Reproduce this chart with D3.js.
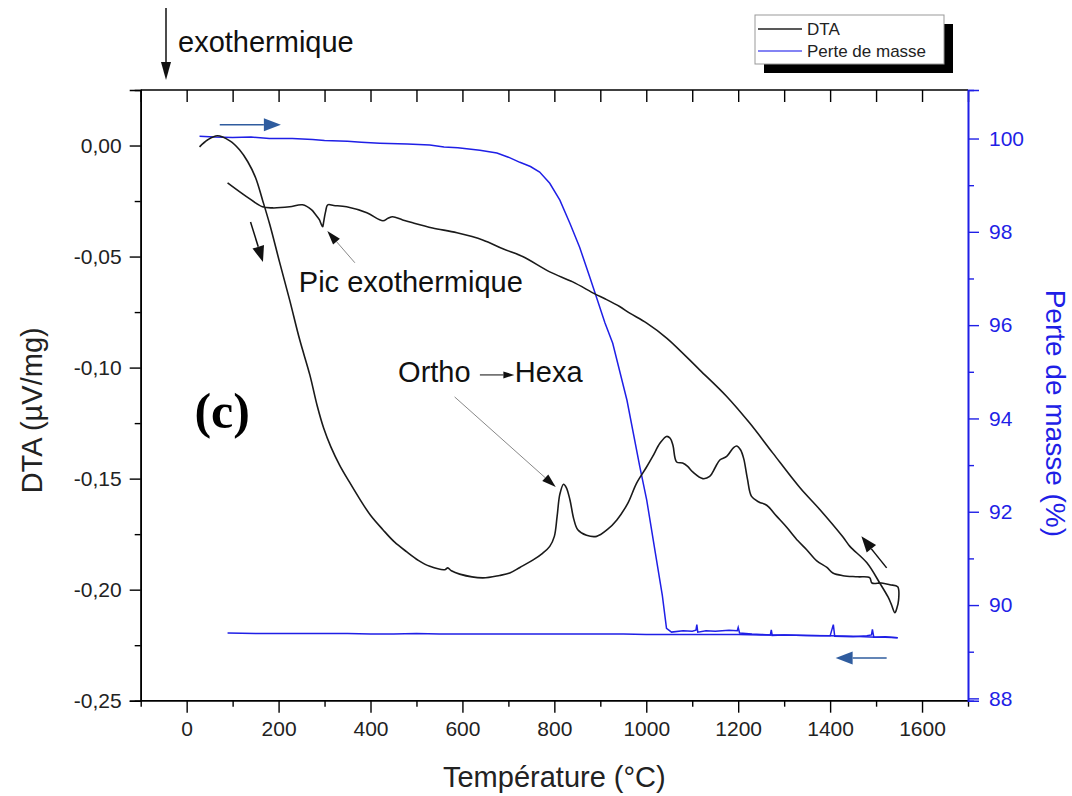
<!DOCTYPE html>
<html><head><meta charset="utf-8">
<script src="https://cdn.jsdelivr.net/npm/d3@7"></script>
<style>body{margin:0;background:#fff}svg{display:block}text{font-family:"Liberation Sans",Arial,sans-serif}</style>
</head><body>
<svg id="c" width="1072" height="796"></svg>
<script>
// ---------- data ----------
const xTicks = [0,200,400,600,800,1000,1200,1400,1600];
const xMinorTicks = [-100,100,300,500,700,900,1100,1300,1500,1700];
const yLeftTicks = [-0.25,-0.20,-0.15,-0.10,-0.05,0.00];
const yLeftMinor = [-0.225,-0.175,-0.125,-0.075,-0.025];
const yRightTicks = [88,90,92,94,96,98,100];
const yRightMinor = [89,91,93,95,97,99];

// DTA heating branch [T, DTA]
const dtaHeating = [[28,-0.0006],[46,0.0026],[67,0.0044],[94,0.0021],[115,-0.0019],[133,-0.0073],[150,-0.0145],[165,-0.0245],[181,-0.0357],[202,-0.0524],[224,-0.0695],[246,-0.0875],[268,-0.1033],[284,-0.1172],[298,-0.1272],[314,-0.1358],[333,-0.1440],[354,-0.1515],[376,-0.159],[400,-0.1665],[427,-0.173],[452,-0.1785],[479,-0.183],[504,-0.1868],[529,-0.1895],[562,-0.1910],[568,-0.1902],[576,-0.1915],[594,-0.193],[644,-0.1947],[681,-0.1936],[703,-0.1925],[725,-0.1900],[753,-0.1867],[775,-0.1835],[790,-0.1805],[800,-0.176],[806,-0.167],[812,-0.157],[820,-0.1525],[826,-0.154],[834,-0.1596],[842,-0.168],[851,-0.173],[870,-0.1755],[892,-0.176],[915,-0.173],[936,-0.1686],[960,-0.161],[979,-0.152],[1000,-0.145],[1014,-0.140],[1030,-0.134],[1044,-0.131],[1052,-0.1318],[1058,-0.135],[1066,-0.1425],[1079,-0.143],[1090,-0.1445],[1101,-0.147],[1123,-0.150],[1138,-0.149],[1150,-0.145],[1160,-0.1416],[1175,-0.140],[1190,-0.136],[1197,-0.1353],[1205,-0.137],[1212,-0.141],[1220,-0.150],[1229,-0.158],[1245,-0.1605],[1262,-0.162],[1284,-0.167],[1306,-0.172],[1330,-0.178],[1349,-0.182],[1371,-0.187],[1393,-0.190],[1406,-0.1925],[1428,-0.1937],[1460,-0.1942],[1486,-0.1946],[1491,-0.197],[1512,-0.197],[1530,-0.1978],[1547,-0.1987],[1549,-0.2046],[1545,-0.2085],[1541,-0.2104]];
// DTA cooling branch [T, DTA]
const dtaCooling = [[1541,-0.2104],[1533,-0.2065],[1526,-0.2033],[1508,-0.197],[1480,-0.1879],[1443,-0.1805],[1428,-0.1763],[1378,-0.164],[1334,-0.154],[1275,-0.1384],[1225,-0.125],[1175,-0.113],[1116,-0.101],[1045,-0.0868],[1001,-0.080],[964,-0.0755],[942,-0.0725],[910,-0.069],[888,-0.0668],[840,-0.0614],[790,-0.0569],[731,-0.050],[688,-0.0465],[644,-0.0425],[588,-0.0393],[535,-0.0371],[492,-0.0348],[470,-0.0335],[448,-0.0321],[438,-0.0328],[427,-0.0339],[392,-0.0303],[348,-0.0276],[320,-0.027],[307,-0.0267],[302,-0.030],[298,-0.0345],[296,-0.0366],[292,-0.035],[289,-0.0335],[280,-0.031],[272,-0.029],[252,-0.0267],[224,-0.0276],[187,-0.0281],[165,-0.0276],[131,-0.0231],[89,-0.0168]];
// mass loss heating branch [T, %]
const massHeating = [[28,100.05],[60,100.03],[100,100.02],[140,100.03],[180,100.0],[230,100.0],[274,99.98],[300,99.96],[350,99.94],[380,99.92],[420,99.9],[480,99.88],[529,99.86],[560,99.82],[590,99.8],[638,99.75],[675,99.69],[700,99.6],[725,99.49],[748,99.4],[768,99.28],[790,99.04],[812,98.68],[834,98.18],[855,97.67],[877,97.03],[894,96.53],[910,96.05],[927,95.61],[958,94.39],[986,92.96],[1001,92.25],[1020,91.1],[1035,90.2],[1044,89.5],[1055,89.42],[1080,89.45],[1100,89.44],[1108,89.46],[1110,89.58],[1112,89.42],[1130,89.45],[1150,89.44],[1180,89.46],[1198,89.45],[1200,89.52],[1203,89.40],[1230,89.38],[1250,89.37],[1270,89.36],[1272,89.47],[1274,89.35],[1300,89.36],[1350,89.35],[1380,89.34],[1400,89.34],[1407,89.58],[1410,89.33],[1450,89.32],[1480,89.34],[1490,89.36],[1492,89.48],[1495,89.31],[1520,89.32],[1547,89.30]];
// mass loss cooling branch [T, %]
const massCooling = [[1547,89.30],[1520,89.31],[1500,89.31],[1450,89.33],[1400,89.34],[1350,89.35],[1300,89.36],[1250,89.36],[1200,89.37],[1150,89.37],[1100,89.37],[1050,89.37],[1000,89.37],[950,89.38],[900,89.38],[850,89.38],[800,89.38],[750,89.38],[700,89.38],[650,89.38],[600,89.38],[550,89.38],[500,89.39],[450,89.38],[400,89.38],[350,89.39],[300,89.39],[250,89.39],[200,89.39],[150,89.39],[89,89.40]];

const legendLabels = ["DTA","Perte de masse"];

// ---------- layout ----------
const svg = d3.select("#c");
const L = 140.7, R = 968, T = 90, B = 700.7;
const x = d3.scaleLinear().domain([-100,1700]).range([L,R]);
const yL = d3.scaleLinear().domain([-0.25,0.025]).range([B,T]);
const yR = d3.scaleLinear().domain([87.95,101.04]).range([B,T]);
const blue = "#1f1fe6";
const arrowBlue = "#2f5c9e";
const fmtL = d => { const s = Math.abs(d).toFixed(2).replace(".",","); return (d < -1e-9 ? "-" : "") + s; };

// axes
const gB = svg.append("g").attr("transform",`translate(0,${B})`);
gB.call(d3.axisBottom(x).tickValues(xTicks).tickSize(12).tickPadding(8).tickFormat(d3.format("d")));
gB.append("g").call(d3.axisBottom(x).tickValues(xMinorTicks).tickSize(6).tickFormat(""));
const gT = svg.append("g").attr("transform",`translate(0,${T})`);
gT.call(d3.axisBottom(x).tickValues(xTicks.concat(xMinorTicks)).tickSize(12).tickFormat(""));
const gLft = svg.append("g").attr("transform",`translate(${L},0)`);
gLft.call(d3.axisLeft(yL).tickValues(yLeftTicks).tickSize(11).tickPadding(8).tickFormat(fmtL));
gLft.append("g").call(d3.axisLeft(yL).tickValues(yLeftMinor).tickSize(6).tickFormat(""));
const gR = svg.append("g").attr("transform",`translate(${R},0)`);
gR.call(d3.axisRight(yR).tickValues(yRightTicks).tickSize(11).tickPadding(10).tickFormat(d3.format("d")));
gR.append("g").call(d3.axisRight(yR).tickValues(yRightMinor).tickSize(6).tickFormat(""));
gR.selectAll("path,line").attr("stroke",blue);
gR.selectAll("text").attr("fill",blue);

svg.selectAll(".domain").attr("stroke-width",1.6);
svg.selectAll(".tick line").attr("stroke-width",1.4);
svg.selectAll(".tick text").style("font-family","Liberation Sans, Arial, sans-serif").style("font-size","21px");
gB.selectAll(".tick text").attr("fill","#222");
gLft.selectAll(".tick text").attr("fill","#222");
gT.select(".domain").attr("d",`M${L},0H${R}`);
gB.selectAll(".domain").attr("d",`M${L},0H${R}`);

// curves
const lineL = d3.line().x(d=>x(d[0])).y(d=>yL(d[1])).curve(d3.curveCatmullRom.alpha(0.5));
const lineR = d3.line().x(d=>x(d[0])).y(d=>yR(d[1])).curve(d3.curveLinear);
svg.append("path").attr("d",lineR(massCooling)).attr("fill","none").attr("stroke",blue).attr("stroke-width",1.5);
svg.append("path").attr("d",lineR(massHeating)).attr("fill","none").attr("stroke",blue).attr("stroke-width",1.5);
svg.append("path").attr("d",lineL(dtaHeating.concat(dtaCooling.slice(1)))).attr("fill","none").attr("stroke","#1a1a1a").attr("stroke-width",1.6);

// arrow helper (points in data units of the left axis)
function arrow(p0,p1,opt){
  const x0=x(p0[0]),y0=yL(p0[1]),x1=x(p1[0]),y1=yL(p1[1]);
  const a=Math.atan2(y1-y0,x1-x0), hl=opt.hl, hw=opt.hw;
  const bx=x1-hl*Math.cos(a), by=y1-hl*Math.sin(a);
  svg.append("line").attr("x1",x0).attr("y1",y0).attr("x2",bx).attr("y2",by)
    .attr("stroke",opt.line).attr("stroke-width",opt.lw);
  const px=-Math.sin(a)*hw/2, py=Math.cos(a)*hw/2;
  svg.append("path").attr("d",`M${x1},${y1}L${bx+px},${by+py}L${bx-px},${by-py}Z`).attr("fill",opt.head);
}
arrow([72,0.0093],[205,0.0093],{line:arrowBlue,head:arrowBlue,lw:1.5,hl:17,hw:13});
arrow([1523,-0.2308],[1412,-0.2308],{line:arrowBlue,head:arrowBlue,lw:1.5,hl:17,hw:13});
arrow([139,-0.0344],[166,-0.0525],{line:"#111",head:"#111",lw:1.5,hl:16,hw:12});
arrow([1523,-0.1902],[1468,-0.1760],{line:"#111",head:"#111",lw:1.5,hl:16,hw:12});
arrow([366,-0.0528],[306,-0.0385],{line:"#888",head:"#111",lw:1,hl:14,hw:9});
arrow([583,-0.1132],[803,-0.1538],{line:"#888",head:"#111",lw:1,hl:14,hw:9});
arrow([638,-0.1033],[713,-0.1033],{line:"#333",head:"#111",lw:1.2,hl:11,hw:7});

// annotation texts
const annSize = "29px";
svg.append("text").attr("x",x(244)).attr("y",yL(-0.066)).text("Pic exothermique").style("font-size",annSize).attr("fill","#111");
svg.append("text").attr("x",x(460)).attr("y",yL(-0.1065)).text("Ortho").style("font-size",annSize).attr("fill","#111");
svg.append("text").attr("x",x(714)).attr("y",yL(-0.1065)).text("Hexa").style("font-size",annSize).attr("fill","#111");
svg.append("text").attr("x",x(17)).attr("y",yL(-0.127)).text("(c)").style("font-family","Liberation Serif, Times New Roman, serif").style("font-weight","bold").style("font-size","50px").attr("fill","#000");

// exothermique marker
svg.append("line").attr("x1",166).attr("y1",8).attr("x2",166).attr("y2",66).attr("stroke","#111").attr("stroke-width",1.5);
svg.append("path").attr("d","M166,80L161,62L171,62Z").attr("fill","#111");
svg.append("text").attr("x",178).attr("y",52).text("exothermique").style("font-size",annSize).attr("fill","#111");

// axis titles
svg.append("text").attr("transform",`translate(${(L+R)/2},787)`).attr("text-anchor","middle").text("Température (°C)").style("font-size","29px").attr("fill","#222");
svg.append("text").attr("transform",`translate(42,${(T+B)/2+15}) rotate(-90)`).attr("text-anchor","middle").text("DTA (µV/mg)").style("font-size","29px").attr("fill","#222");
svg.append("text").attr("transform",`translate(1046,${(T+B)/2+18}) rotate(90)`).attr("text-anchor","middle").text("Perte de masse (%)").style("font-size","28px").attr("fill",blue);

// legend
const lg = svg.append("g").attr("transform","translate(755,15)");
lg.append("rect").attr("x",9).attr("y",9).attr("width",189).attr("height",49).attr("fill","#000");
lg.append("rect").attr("x",0).attr("y",0).attr("width",189).attr("height",49).attr("fill","#fff").attr("stroke","#999").attr("stroke-width",1);
const legColors = ["#222", "#5a5af0"];
legendLabels.forEach((t,i)=>{
  lg.append("line").attr("x1",3).attr("x2",47).attr("y1",14+i*22).attr("y2",14+i*22).attr("stroke",legColors[i]).attr("stroke-width",1.5);
  lg.append("text").attr("x",52).attr("y",20+i*22).text(t).style("font-size","17px").attr("fill","#222");
});
</script>
</body></html>
